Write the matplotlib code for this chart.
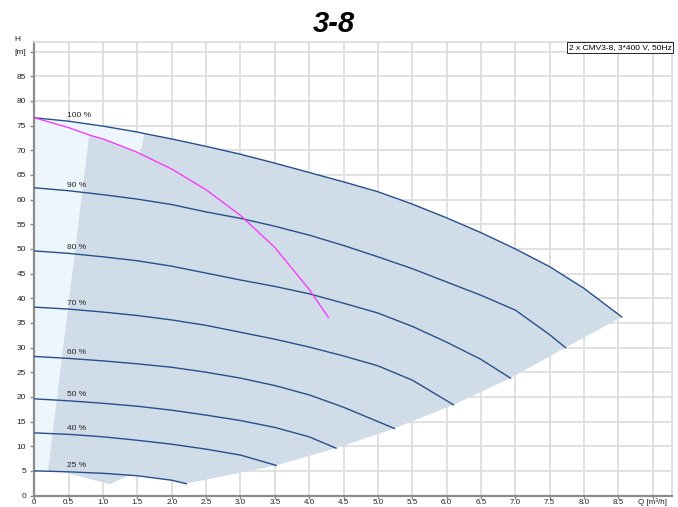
import numpy as np
import matplotlib
matplotlib.use('Agg')
import matplotlib.pyplot as plt

plt.rcParams['font.family'] = ['Liberation Sans', 'DejaVu Sans']

# speed curves, Q [m3/h] and H [m]
q100 = [0, 0.5, 1.0, 1.5, 1.6, 2.0, 2.5, 3.0, 3.5, 4.0, 4.5, 5.0, 5.5, 6.0, 6.5, 7.0, 7.5, 8.0, 8.55]
h100 = [76.6, 75.9, 74.9, 73.7, 73.4, 72.3, 70.8, 69.2, 67.4, 65.5, 63.6, 61.6, 59.1, 56.3, 53.3, 50.0, 46.4, 42.0, 36.2]

q90 = [0, 0.5, 1.0, 1.5, 2.0, 2.5, 3.0, 3.5, 4.0, 4.5, 5.0, 5.5, 6.0, 6.5, 7.0, 7.5, 7.73]
h90 = [62.4, 61.8, 61.0, 60.1, 59.0, 57.5, 56.2, 54.6, 52.8, 50.7, 48.4, 46.0, 43.3, 40.6, 37.6, 32.6, 30.0]

q80 = [0, 0.5, 1.0, 1.5, 2.0, 2.5, 3.0, 3.5, 4.0, 4.5, 5.0, 5.5, 6.0, 6.5, 6.93]
h80 = [49.6, 49.1, 48.4, 47.6, 46.5, 45.1, 43.7, 42.4, 40.9, 39.0, 37.0, 34.3, 31.1, 27.6, 23.8]

q70 = [0, 0.5, 1.0, 1.5, 2.0, 2.5, 3.0, 3.5, 4.0, 4.5, 5.0, 5.5, 6.1]
h70 = [38.2, 37.8, 37.2, 36.5, 35.6, 34.5, 33.1, 31.7, 30.1, 28.3, 26.3, 23.4, 18.4]

q60 = [0, 0.5, 1.0, 1.5, 2.0, 2.5, 3.0, 3.5, 4.0, 4.5, 5.24]
h60 = [28.2, 27.8, 27.3, 26.7, 26.0, 25.0, 23.8, 22.3, 20.4, 17.9, 13.6]

q50 = [0, 0.5, 1.0, 1.5, 2.0, 2.5, 3.0, 3.5, 4.0, 4.39]
h50 = [19.6, 19.2, 18.7, 18.1, 17.3, 16.3, 15.2, 13.8, 11.9, 9.6]

q40 = [0, 0.5, 1.0, 1.5, 2.0, 2.5, 3.0, 3.52]
h40 = [12.7, 12.4, 11.9, 11.2, 10.4, 9.4, 8.2, 6.1]

q25 = [0, 0.5, 1.0, 1.5, 2.0, 2.21]
h25 = [5.0, 4.8, 4.5, 4.0, 3.1, 2.4]

speed_labels = ['100 %', '90 %', '80 %', '70 %', '60 %', '50 %', '40 %', '25 %']

# system curve (magenta)
q_sys = [0, 0.5, 0.8, 1.0, 1.5, 1.54, 2.0, 2.5, 3.0, 3.5, 4.0, 4.28]
h_sys = [76.6, 74.6, 73.1, 72.3, 69.6, 69.3, 66.2, 62.0, 56.8, 50.3, 41.8, 36.1]

# extra corners of the operating area
notch_q = [1.37, 1.1, 0.4, 0.2]
notch_h = [4.05, 2.3, 4.8, 4.95]

legend_text = '2 x CMV3-8, 3*400 V, 50Hz'

curves = [(q100, h100), (q90, h90), (q80, h80), (q70, h70),
          (q60, h60), (q50, h50), (q40, h40), (q25, h25)]

fig = plt.figure(figsize=(6.78, 5.07), dpi=100)
ax = fig.add_axes([34.3 / 678, 11.5 / 507, 637.7 / 678, 453.2 / 507])

# pale area on the left
pale_q = [q for q in q100 if q <= 1.6] + [0.2, 0]
pale_h = [h for q, h in zip(q100, h100) if q <= 1.6] + [4.95, 5.0]
ax.fill(pale_q, pale_h, color='#edf5fd', lw=0, zorder=1)

# darker operating area
top = [(q, h) for q, h in zip(q100, h100) if q >= 1.6]
ends = [(c[0][-1], c[1][-1]) for c in curves[1:]]
bottom = [(q, h) for q, h in zip(q25, h25) if 1.4 < q < 2.21][::-1]
notch = list(zip(notch_q, notch_h))
left_top = [(q, h) for q, h in zip(q_sys, h_sys) if 0.8 <= q <= 1.54]
poly = top + ends + bottom + notch + left_top
ax.fill([p[0] for p in poly], [p[1] for p in poly], color='#d0dce7', lw=0, zorder=2)

for (q, h), lab in zip(curves, speed_labels):
    ax.plot(q, h, color='#28508a', lw=1.0, zorder=4)
    ax.text(0.48, np.interp(0.6, q, h) + 0.6, lab, fontsize=6, color='#222222',
            ha='left', va='bottom', zorder=5)

ax.plot(q_sys, h_sys, color='#ff2cff', lw=0.9, zorder=5)

ax.set_xlim(0, 9.28)
ax.set_ylim(0, 91.9)
ax.set_xticks(np.arange(0, 9.01, 0.5))
ax.set_yticks(np.arange(0, 90.1, 5))
ax.set_xticklabels(['0'] + ['%.1f' % v for v in np.arange(0.5, 8.51, 0.5)] + ['Q [m³/h]'])
ax.set_yticklabels([str(v) for v in range(0, 90, 5)] + ['[m]'])
ax.grid(True, color='#dcdcdc', lw=1.2, zorder=0)
ax.set_axisbelow(True)
ax.tick_params(labelsize=6, colors='#888888', labelcolor='#222222', length=3, width=1)
ax.tick_params(axis='x', length=2, pad=0.3, labelsize=5.8)
ax.tick_params(axis='y', pad=3)

for side in ['left', 'bottom']:
    ax.spines[side].set_color('#8c8c8c')
    ax.spines[side].set_linewidth(1.6)
for side in ['top', 'right']:
    ax.spines[side].set_color('#dcdcdc')
    ax.spines[side].set_linewidth(1.2)

ax.text(-0.026, 1.006, 'H', transform=ax.transAxes, fontsize=6, color='#222222',
        ha='center', va='center')

ax.text(0.999, 0.997, legend_text, transform=ax.transAxes, fontsize=6, ha='right', va='top',
        bbox=dict(boxstyle='square,pad=0.25', fc='white', ec='black', lw=0.6), zorder=6)

fig.text(334 / 678, 1 - 24 / 507, '3-8', fontsize=21, fontweight='bold', fontstyle='italic',
         ha='center', va='center')

fig.savefig('out.png', dpi=100)
